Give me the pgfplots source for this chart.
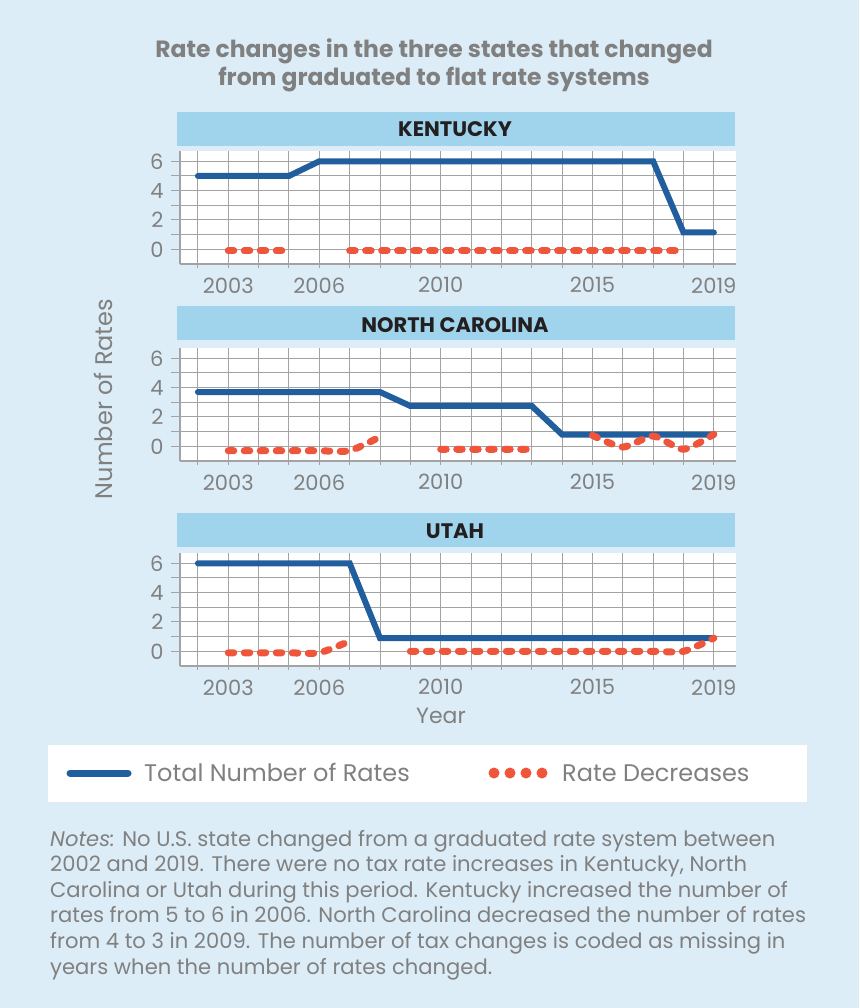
\documentclass[border=0pt]{standalone}
\usepackage{pgfplots}
\pgfplotsset{compat=1.18}
\usepackage{fontspec}
\setmainfont{Poppins}
\definecolor{bg}{HTML}{DCEDF7}
\definecolor{strip}{HTML}{A0D4EC}
\definecolor{blueL}{HTML}{215E9E}
\definecolor{redL}{HTML}{EF553B}
\definecolor{gridc}{HTML}{A3A3A3}
\definecolor{txt}{HTML}{808080}
\definecolor{dark}{HTML}{231F20}
\pgfplotsset{
 panel/.style={
  scale only axis, width=556pt, height=113pt,
  xmin=2001.41, xmax=2019.73, ymin=-1, ymax=6.7,
  axis x line*=bottom, axis y line*=left,
  axis line style={gridc, line width=1.3pt},
  xtick={2003,2006,2010,2015,2019},
  minor xtick={2002,2004,2005,2007,2008,2009,2011,2012,2013,2014,2016,2017,2018},
  ytick={0,2,4,6}, minor ytick={1,3,5},
  grid=both,
  major grid style={gridc, line width=1pt},
  minor grid style={gridc, line width=1pt},
  tick align=outside,
  major tick length=4pt, minor tick length=4pt,
  tick style={gridc, line width=1pt},
  axis background/.style={fill=white},
  /pgf/number format/assume math mode=true,
  /pgf/number format/1000 sep={},
  xticklabel={\pgfmathprintnumber{\tick}},
  yticklabel={\pgfmathprintnumber{\tick}},
  ticklabel style={font=\fontsize{21}{21}\selectfont, text=txt},
  xticklabel style={yshift=-6pt},
  yticklabel style={xshift=-9pt},
  extra y ticks={0,1,2,3,4,5,6}, extra y tick labels={},
  extra y tick style={grid=none, major tick length=9pt},
  unbounded coords=jump,
 },
 tot/.style={blueL, line width=6pt, line cap=round, no marks},
 dec/.style={redL, line width=7pt, line cap=round, dash pattern=on 5.5pt off 10.5pt, no marks, smooth, tension=0.4},
}
\begin{document}
\begin{tikzpicture}[x=1pt,y=1pt]
\fill[bg, use as bounding box] (0,0) rectangle (859,-1008);
% title
\node[anchor=base, text=txt, font=\fontsize{23.5}{23.5}\selectfont\bfseries] at (434,-58) {Rate changes in the three states that changed};
\node[anchor=base, text=txt, font=\fontsize{23.5}{23.5}\selectfont\bfseries] at (434,-86) {from graduated to flat rate systems};
% strips
\fill[strip] (177,-112) rectangle (735,-146);
\node[anchor=base, text=dark, font=\fontsize{21}{21}\selectfont\bfseries] at (455,-136.5) {KENTUCKY};
\fill[strip] (177,-306) rectangle (735,-340);
\node[anchor=base, text=dark, font=\fontsize{21}{21}\selectfont\bfseries] at (455,-332.5) {NORTH CAROLINA};
\fill[strip] (177,-513) rectangle (735,-547);
\node[anchor=base, text=dark, font=\fontsize{21}{21}\selectfont\bfseries] at (455,-538.5) {UTAH};

% Kentucky
\begin{axis}[panel, at={(180pt,-264pt)}, anchor=south west]
\addplot[tot] coordinates {(2002,5)(2003,5)(2004,5)(2005,5)(2006,6)(2007,6)(2008,6)(2009,6)(2010,6)(2011,6)(2012,6)(2013,6)(2014,6)(2015,6)(2016,6)(2017,6)(2018,1.15)(2019,1.15)};
\addplot[dec] coordinates {(2003,-0.1)(2004,-0.1)(2005,-0.1)(2006,nan)(2007,-0.1)(2008,-0.1)(2009,-0.1)(2010,-0.1)(2011,-0.1)(2012,-0.1)(2013,-0.1)(2014,-0.1)(2015,-0.1)(2016,-0.1)(2017,-0.1)(2018,-0.1)};
\end{axis}

% North Carolina
\begin{axis}[panel, at={(180pt,-461pt)}, anchor=south west]
\addplot[tot] coordinates {(2002,3.7)(2003,3.7)(2004,3.7)(2005,3.7)(2006,3.7)(2007,3.7)(2008,3.7)(2009,2.75)(2010,2.75)(2011,2.75)(2012,2.75)(2013,2.75)(2014,0.8)(2015,0.8)(2016,0.8)(2017,0.8)(2018,0.8)(2019,0.8)};
\addplot[dec] coordinates {(2003,-0.3)(2004,-0.3)(2005,-0.3)(2006,-0.3)(2007,-0.3)(2008,0.65)(2009,nan)(2010,-0.2)(2011,-0.2)(2012,-0.2)(2013,-0.2)(2014,nan)(2015,0.75)(2016,-0.05)(2017,0.7)(2018,-0.2)(2019,0.82)};
\end{axis}

% Utah
\begin{axis}[panel, at={(180pt,-666pt)}, anchor=south west]
\addplot[tot] coordinates {(2002,6)(2003,6)(2004,6)(2005,6)(2006,6)(2007,6)(2008,0.9)(2009,0.9)(2010,0.9)(2011,0.9)(2012,0.9)(2013,0.9)(2014,0.9)(2015,0.9)(2016,0.9)(2017,0.9)(2018,0.9)(2019,0.9)};
\addplot[dec] coordinates {(2003,-0.1)(2004,-0.1)(2005,-0.1)(2006,-0.1)(2007,0.7)(2008,nan)(2009,0)(2010,0)(2011,0)(2012,0)(2013,0)(2014,0)(2015,0)(2016,0)(2017,0)(2018,0)(2019,0.9)};
\end{axis}

% axis labels
\node[rotate=90, text=txt, font=\fontsize{24}{24}\selectfont] at (103,-399) {Number of Rates};
\node[text=txt, font=\fontsize{22}{22}\selectfont] at (441,-716) {Year};

% legend
\fill[white] (48,-745) rectangle (807,-802);
\draw[blueL, line width=7pt, line cap=round] (70,-773) -- (128,-773);
\draw[redL, line width=11pt, line cap=round, dash pattern=on 0pt off 16pt] (494,-773) -- (545,-773);
\node[anchor=base west, inner sep=0pt, text=txt, font=\fontsize{24}{24}\selectfont] at (144,-781.5) {Total Number of Rates};
\node[anchor=base west, inner sep=0pt, text=txt, font=\fontsize{24}{24}\selectfont] at (562,-781.5) {Rate Decreases};

% notes
\begin{scope}[every node/.style={anchor=base west, inner sep=0pt, text=txt, font=\fontsize{21.1}{21.1}\selectfont}]
\node at (50,-846) {\textit{Notes:} No U.S. state changed from a graduated rate system between};
\node at (50,-871.6) {2002 and 2019. There were no tax rate increases in Kentucky, North};
\node at (50,-897.2) {Carolina or Utah during this period. Kentucky increased the number of};
\node at (50,-922.8) {rates from 5 to 6 in 2006. North Carolina decreased the number of rates};
\node at (50,-948.4) {from 4 to 3 in 2009. The number of tax changes is coded as missing in};
\node at (50,-974) {years when the number of rates changed.};
\end{scope}
\end{tikzpicture}
\end{document}
